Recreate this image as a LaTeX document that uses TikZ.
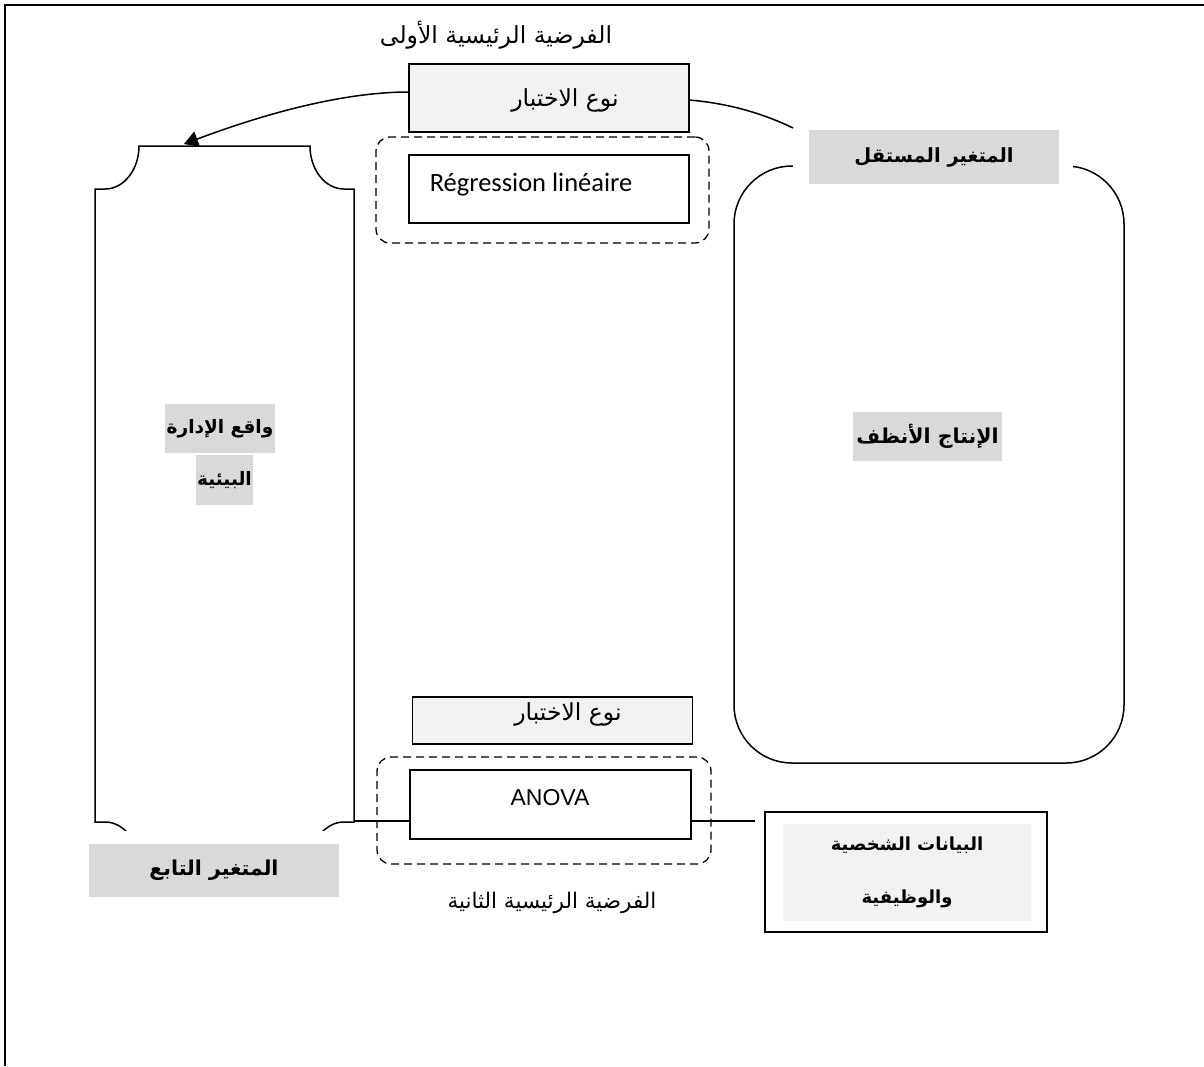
\documentclass[tikz,border=0pt]{standalone}
\usepackage{fontspec}
\usetikzlibrary{arrows.meta}
\TeXXeTstate=1
\newfontfamily\arfont[Script=Arabic]{DejaVu Sans}
\newfontfamily\calfont{Carlito}
\newfontfamily\arialfont{Liberation Sans}
\definecolor{lblgray}{HTML}{D9D9D9}
\definecolor{boxgray}{HTML}{F2F2F2}
\begin{document}
\begin{tikzpicture}[x=1pt,y=-1pt,
  every node/.style={inner sep=0pt,outer sep=0pt},
  ln/.style={line width=1.5pt},
  artxt/.style={font=\arfont\fontsize{23.5}{28}\selectfont},
  arbold/.style={font=\arfont\bfseries\fontsize{19.5}{24}\selectfont},
  testbox/.style={draw,line width=1.5pt,fill=boxgray,minimum width=280pt},
  methodbox/.style={draw,line width=1.5pt,fill=white,minimum width=280pt,minimum height=69pt},
  groupbox/.style={draw,line width=1.3pt,dash pattern=on 8pt off 5pt,rounded corners=14pt,minimum width=333pt,minimum height=106pt},
  graylbl/.style={fill=lblgray},
  whitepad/.style={fill=white}
]
\useasboundingbox (0,0) rectangle (1204,1066);
\fill[white] (0,0) rectangle (1204,1066);
% outer frame (only top and left visible)
\draw[line width=2pt] (5,1066) -- (5,5) -- (1204,5);

% right rounded frame (independent variable)
\node[draw,ln,rounded corners=58pt,minimum width=390pt,minimum height=597pt] (cleanframe) at (929,464.5) {};
\node[whitepad,minimum width=280pt,minimum height=70pt] (indepW) at (933,163) {};
\node[graylbl,arbold,minimum width=250pt,minimum height=54pt] (indep) at (934,157) {\beginR المتغير المستقل\endR};
\node[graylbl,font=\arfont\bfseries\fontsize{20.5}{24}\selectfont,minimum width=149pt,minimum height=49pt] (clean) at (927.5,436.5) {\beginR الإنتاج الأنظف\endR};

% left scroll shape (dependent variable)
\draw[ln] (95,822) -- (95,189) -- (105,189)
  .. controls (123.8,189) and (139,169.7) .. (139,146) -- (310,146)
  .. controls (310,169.7) and (325.2,189) .. (344,189) -- (354,189) -- (354,822) -- (344,822)
  .. controls (325.2,822) and (310,841.3) .. (310,865) -- (139,865)
  .. controls (139,841.3) and (123.8,822) .. (105,822) -- cycle;
\coordinate (scrolltop) at (184,144);
\coordinate (scrollR) at (354,821);
\node[whitepad,minimum width=274pt,minimum height=80pt] (depW) at (215,871) {};
\node[graylbl,font=\arfont\bfseries\fontsize{20.5}{24}\selectfont,minimum width=250pt,minimum height=53pt] (dep) at (214,870.5) {\beginR المتغير التابع\endR};
\node[graylbl,font=\arfont\bfseries\fontsize{18.5}{22}\selectfont,minimum width=110pt,minimum height=49pt] (env1) at (220,428.5) {\beginR واقع الإدارة\endR};
\node[graylbl,font=\arfont\bfseries\fontsize{18.5}{22}\selectfont,minimum width=57pt,minimum height=50pt] (env2) at (224.5,480) {\beginR البيئية\endR};

% first main hypothesis
\node[artxt] (hyp1) at (496,35) {\beginR الفرضية الرئيسية الأولى\endR};
\node[testbox,minimum height=68pt] (test1) at (549,98) {};
\node[artxt] (test1t) at (565,100) {\beginR نوع الاختبار\endR};
\node[groupbox] (grp1) at (542.5,190) {};
\node[methodbox,minimum height=68pt] (reg) at (549,189) {};
\node[font=\calfont\fontsize{26.5}{30}\selectfont] (regt) at (531,185) {Régression linéaire};

% second main hypothesis
\node[testbox,minimum height=47pt] (test2) at (552.5,720.5) {};
\node[artxt] (test2t) at (568,714) {\beginR نوع الاختبار\endR};
\node[groupbox,minimum width=334pt,minimum height=107pt] (grp2) at (544,810.5) {};
\node[methodbox,minimum width=281pt] (anova) at (550.5,804.5) {};
\node[font=\arialfont\fontsize{23}{27}\selectfont] (anovat) at (550,798) {ANOVA};
\node[font=\arfont\fontsize{21.5}{26}\selectfont] (hyp2) at (552,903) {\beginR الفرضية الرئيسية الثانية\endR};

% personal data box
\node[draw,ln,fill=white,minimum width=282pt,minimum height=120pt] (data) at (906,872) {};
\node[fill=boxgray,minimum width=248pt,minimum height=97pt,align=center,font=\arfont\bfseries\fontsize{18}{53}\selectfont] (datat) at (907,872.5) {\beginR البيانات الشخصية\endR\\\beginR والوظيفية\endR};

% connectors
\draw[ln,-{Triangle[length=14pt,width=16pt]}] ([yshift=6pt]test1.west)
  .. controls (330,92) and (240,123) .. (scrolltop);
\draw[ln] ([yshift=-2pt]test1.east) .. controls (725,103) and (760,112) .. (indepW.north west);
\draw[ln] (scrollR) -- (scrollR -| anova.west);
\draw[ln,shorten >=10pt] (scrollR -| anova.east) -- (scrollR -| data.west);
\end{tikzpicture}
\end{document}
